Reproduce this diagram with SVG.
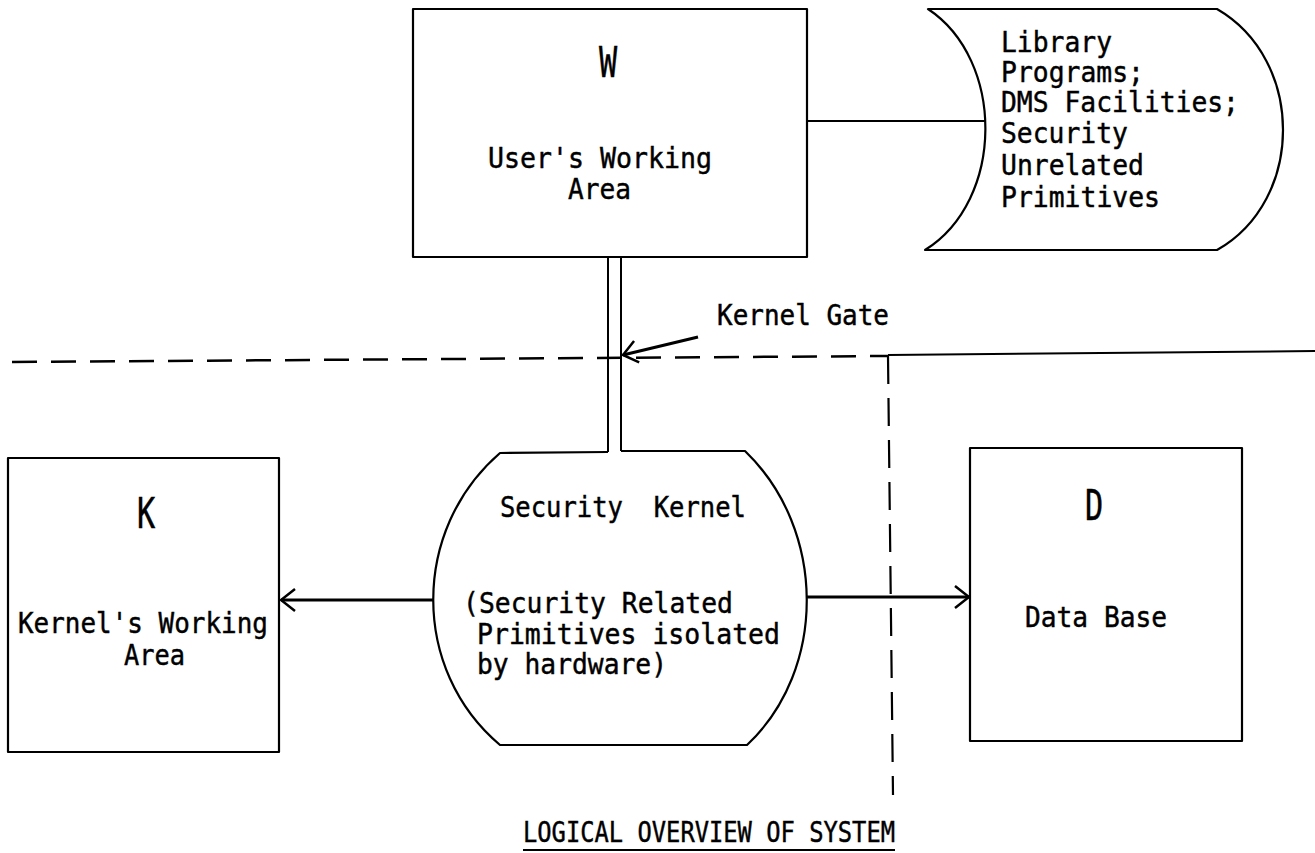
<svg xmlns="http://www.w3.org/2000/svg" width="1315" height="853" viewBox="0 0 1315 853">
  <style>
    .shape { fill: none; stroke: #000; stroke-width: 2.2; stroke-linejoin: round; }
    .line { fill: none; stroke: #000; stroke-width: 2; }
    .arrow { fill: none; stroke: #000; stroke-width: 3; }
    .dash { fill: none; stroke: #000; stroke-width: 2.5; stroke-dasharray: 25 14; }
    .vdash { fill: none; stroke: #000; stroke-width: 2.2; stroke-dasharray: 28 14; }
    .t { font-family: "DejaVu Sans Mono", "Liberation Mono", monospace; font-size: 28.5px; fill: #000; stroke: #000; stroke-width: 0.45; }
    .big { font-family: "DejaVu Sans Mono", "Liberation Mono", monospace; font-size: 42px; fill: #000; stroke: #000; stroke-width: 0.5; text-anchor: middle; }
  </style>
  <defs>
    <marker id="open" viewBox="0 0 16 24" refX="15" refY="12" markerWidth="16" markerHeight="24" markerUnits="userSpaceOnUse" orient="auto">
      <path d="M 1 1 L 15 12 L 1 23" fill="none" stroke="#000" stroke-width="2.5"/>
    </marker>
  </defs>

  <rect width="1315" height="853" fill="#fff"/>

  <!-- User's working area -->
  <g id="node-w">
    <rect class="shape" x="413" y="9" width="394" height="248"/>
    <text class="big" transform="translate(608 77) scale(0.72 1)">W</text>
    <text class="t" x="488" y="168" textLength="224" lengthAdjust="spacingAndGlyphs">User's Working</text>
    <text class="t" x="568" y="199" textLength="63" lengthAdjust="spacingAndGlyphs">Area</text>
  </g>

  <!-- Library / stored programs -->
  <g id="node-library">
    <path class="shape" d="M 928 9 L 1217 9 C 1305 60 1305 200 1217 250 L 925 250 C 1005 200 1005 60 928 9 Z"/>
    <text class="t" x="1001" y="52" textLength="111" lengthAdjust="spacingAndGlyphs">Library</text>
    <text class="t" x="1001" y="82" textLength="143" lengthAdjust="spacingAndGlyphs">Programs;</text>
    <text class="t" x="1001" y="112" textLength="238" lengthAdjust="spacingAndGlyphs">DMS Facilities;</text>
    <text class="t" x="1001" y="143" textLength="127" lengthAdjust="spacingAndGlyphs">Security</text>
    <text class="t" x="1001" y="175" textLength="143" lengthAdjust="spacingAndGlyphs">Unrelated</text>
    <text class="t" x="1001" y="207" textLength="159" lengthAdjust="spacingAndGlyphs">Primitives</text>
  </g>

  <!-- Security kernel -->
  <g id="node-kernel">
    <path class="shape" d="M 608 452 L 500 453 C 411 530 411 670 500 745 L 747 745 C 827 670 827 530 745 451 L 621 451"/>
    <text class="t" x="500" y="517" xml:space="preserve" textLength="246" lengthAdjust="spacingAndGlyphs">Security  Kernel</text>
    <text class="t" x="463" y="613" textLength="270" lengthAdjust="spacingAndGlyphs">(Security Related</text>
    <text class="t" x="477" y="644" textLength="303" lengthAdjust="spacingAndGlyphs">Primitives isolated</text>
    <text class="t" x="477" y="674" textLength="190" lengthAdjust="spacingAndGlyphs">by hardware)</text>
  </g>

  <!-- Kernel's working area -->
  <g id="node-k">
    <rect class="shape" x="8" y="458" width="271" height="294"/>
    <text class="big" transform="translate(146 528) scale(0.72 1)">K</text>
    <text class="t" x="18" y="633" textLength="250" lengthAdjust="spacingAndGlyphs">Kernel's Working</text>
    <text class="t" x="124" y="665" textLength="61" lengthAdjust="spacingAndGlyphs">Area</text>
  </g>

  <!-- Data base -->
  <g id="node-d">
    <rect class="shape" x="970" y="448" width="272" height="293"/>
    <text class="big" transform="translate(1094 520) scale(0.72 1)">D</text>
    <text class="t" x="1025" y="627" textLength="142" lengthAdjust="spacingAndGlyphs">Data Base</text>
  </g>

  <!-- Connectors and boundaries -->
  <g id="connectors">
    <line class="line" x1="807" y1="121" x2="985" y2="121"/>
    <line class="line" x1="608" y1="257" x2="608" y2="452"/>
    <line class="line" x1="621" y1="257" x2="621" y2="451"/>
    <line class="arrow" x1="433" y1="600" x2="281" y2="600" marker-end="url(#open)"/>
    <line class="arrow" x1="807" y1="597" x2="969" y2="597" marker-end="url(#open)"/>
    <line class="arrow" x1="698" y1="337" x2="623" y2="355" marker-end="url(#open)"/>
    <line class="dash" x1="12" y1="362" x2="888" y2="356"/>
    <line class="line" x1="888" y1="355" x2="1315" y2="351" stroke-width="2.5"/>
    <line class="vdash" x1="888" y1="356" x2="893" y2="795"/>
  </g>

  <!-- Labels -->
  <g id="labels">
    <text class="t" x="717" y="325" textLength="172" lengthAdjust="spacingAndGlyphs">Kernel Gate</text>
    <text class="t" x="523" y="842" font-size="30" textLength="372" lengthAdjust="spacingAndGlyphs">LOGICAL OVERVIEW OF SYSTEM</text>
    <line class="line" x1="523" y1="850" x2="895" y2="850"/>
  </g>
</svg>
